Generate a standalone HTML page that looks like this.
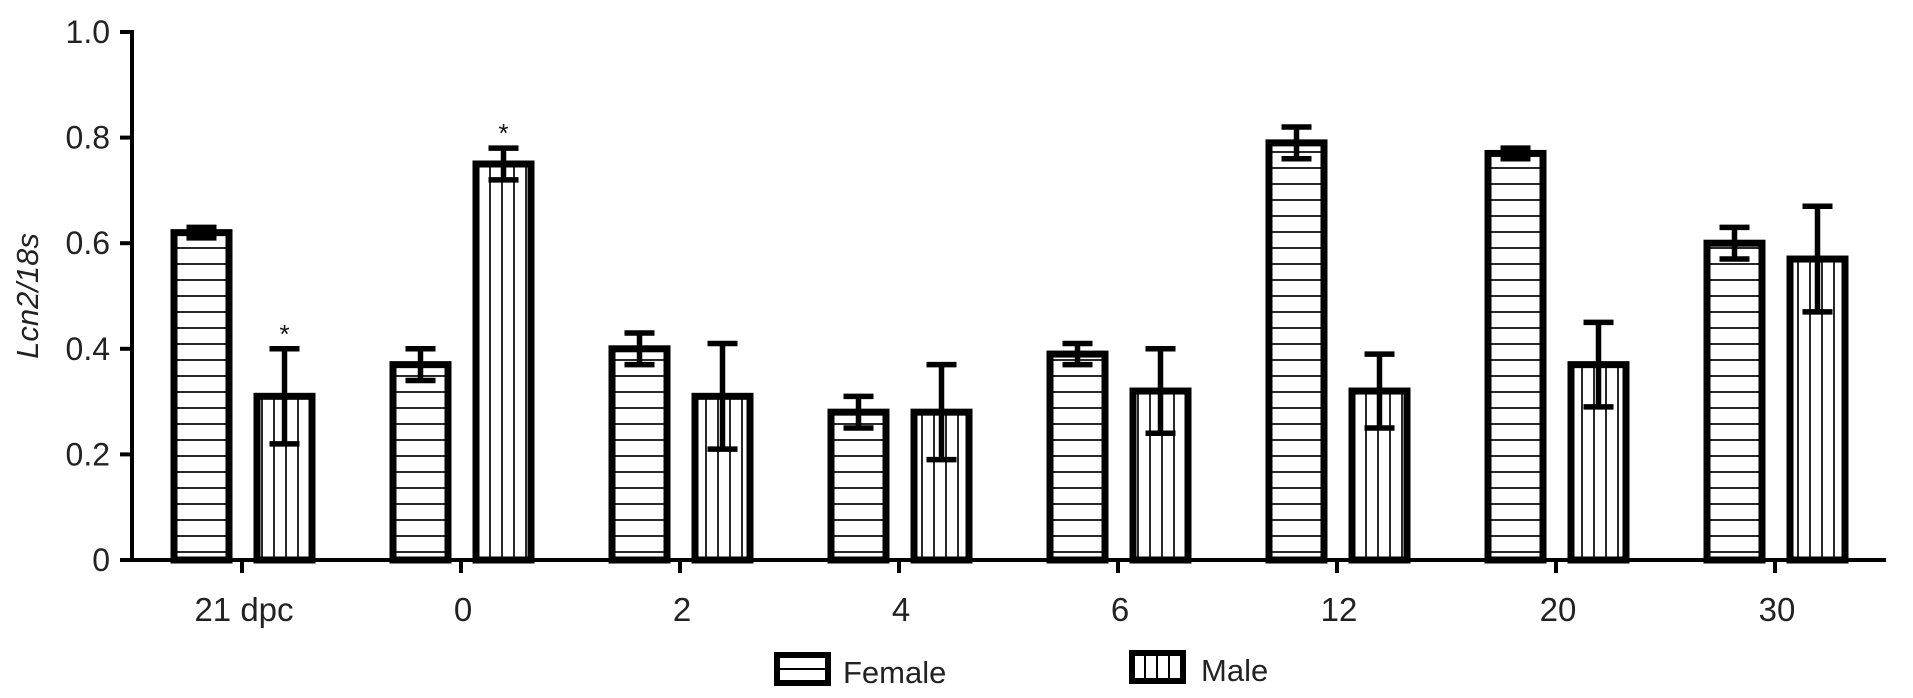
<!DOCTYPE html>
<html><head><meta charset="utf-8"><style>
html,body{margin:0;padding:0;background:#fff;}
svg{display:block;font-family:"Liberation Sans",Arial,sans-serif;}
</style></head><body>
<svg id="chart" width="1913" height="698" viewBox="0 0 1913 698">
<defs>
<pattern id="hpat" width="10" height="16" patternUnits="userSpaceOnUse"><rect width="10" height="16" fill="#fff"/><line x1="0" y1="8" x2="10" y2="8" stroke="#111" stroke-width="1.8"/></pattern>
<pattern id="vpat" width="12" height="10" patternUnits="userSpaceOnUse" x="4"><rect width="12" height="10" fill="#fff"/><line x1="6" y1="0" x2="6" y2="10" stroke="#111" stroke-width="1.8"/></pattern>
</defs>
<g id="plot"></g>
</svg>
<script>
const categories = ["21 dpc","0","2","4","6","12","20","30"];
const femaleValues = [0.62,0.37,0.40,0.28,0.39,0.79,0.77,0.60];
const femaleErrors = [0.01,0.03,0.03,0.03,0.02,0.03,0.01,0.03];
const maleValues = [0.31,0.75,0.31,0.28,0.32,0.32,0.37,0.57];
const maleErrors = [0.09,0.03,0.10,0.09,0.08,0.07,0.08,0.10];
const maleSignificant = [true,true,false,false,false,false,false,false];
const yTicks = [0,0.2,0.4,0.6,0.8,1.0];
const yTickLabels = ["0","0.2","0.4","0.6","0.8","1.0"];

const NS="http://www.w3.org/2000/svg";
const g=document.getElementById('plot');
const X0=132, Y0=560, Y1=32, firstTick=242, step=219;
const y=v=>Y0-(Y0-Y1)*v;
const xc=i=>firstTick+step*i;
function mk(tag,attrs,parent){const e=document.createElementNS(NS,tag);for(const k in attrs)e.setAttribute(k,attrs[k]);(parent||g).appendChild(e);return e;}

categories.forEach((c,i)=>{
  [[femaleValues,femaleErrors,-40.5,'url(#hpat)','female'],[maleValues,maleErrors,42.5,'url(#vpat)','male']].forEach(([vals,errs,off,fill,nm])=>{
    const cx=xc(i)+off, w=55, top=y(vals[i]);
    const r=mk('rect',{x:cx-w/2,y:top,width:w,height:Y0-top,fill:fill,stroke:'#000','stroke-width':7});
    
    
    const eg=mk('g',{stroke:'#000','stroke-width':5.5,fill:'none'});
    
    
    const hi=y(vals[i]+errs[i]), lo=y(vals[i]-errs[i]);
    mk('line',{x1:cx,y1:hi,x2:cx,y2:lo},eg);
    mk('line',{x1:cx-15,y1:hi,x2:cx+15,y2:hi},eg);
    mk('line',{x1:cx-15,y1:lo,x2:cx+15,y2:lo},eg);
    if(nm==='male' && maleSignificant[i]){
      const s=mk('text',{x:cx,y:hi-6,'text-anchor':'middle','font-size':26,fill:'#111'});
      s.textContent='*';
      
      
    }
  });
  const t=mk('line',{x1:xc(i),y1:Y0,x2:xc(i),y2:Y0+13,stroke:'#000','stroke-width':4});
  
  
  const l=mk('text',{x:xc(i)+2,y:621,'text-anchor':'middle','font-size':33,fill:'#222'});
  l.textContent=c;
  
  
});
const ya=mk('line',{x1:X0,y1:Y1-2,x2:X0,y2:Y0+2,stroke:'#000','stroke-width':4});


const xa=mk('line',{x1:X0-12,y1:Y0,x2:1886,y2:Y0,stroke:'#000','stroke-width':4});


yTicks.forEach((v,i)=>{
  const t=mk('line',{x1:X0-12,y1:y(v),x2:X0,y2:y(v),stroke:'#000','stroke-width':4});
  
  
  const l=mk('text',{x:X0-22,y:y(v)+11,'text-anchor':'end','font-size':32,fill:'#222'});
  l.textContent=yTickLabels[i];
  
  
});
const yt=mk('text',{x:0,y:0,transform:'translate(38,296) rotate(-90)','text-anchor':'middle','font-size':31,'font-style':'italic',fill:'#222'});
yt.textContent='Lcn2/18s';


const lf=mk('g',{});


mk('rect',{x:777,y:655,width:51,height:28,fill:'#fff',stroke:'#000','stroke-width':6},lf);
mk('line',{x1:780,y1:669,x2:825,y2:669,stroke:'#000','stroke-width':2},lf);
const ft=mk('text',{x:843,y:683,'font-size':31,fill:'#222'},lf);ft.textContent='Female';
const lm=mk('g',{});


mk('rect',{x:1132,y:653,width:51,height:28,fill:'#fff',stroke:'#000','stroke-width':6},lm);
[1145,1157,1169].forEach(xx=>mk('line',{x1:xx,y1:656,x2:xx,y2:678,stroke:'#000','stroke-width':2},lm));
const mt=mk('text',{x:1201,y:681,'font-size':31,fill:'#222'},lm);mt.textContent='Male';
</script>
</body></html>
